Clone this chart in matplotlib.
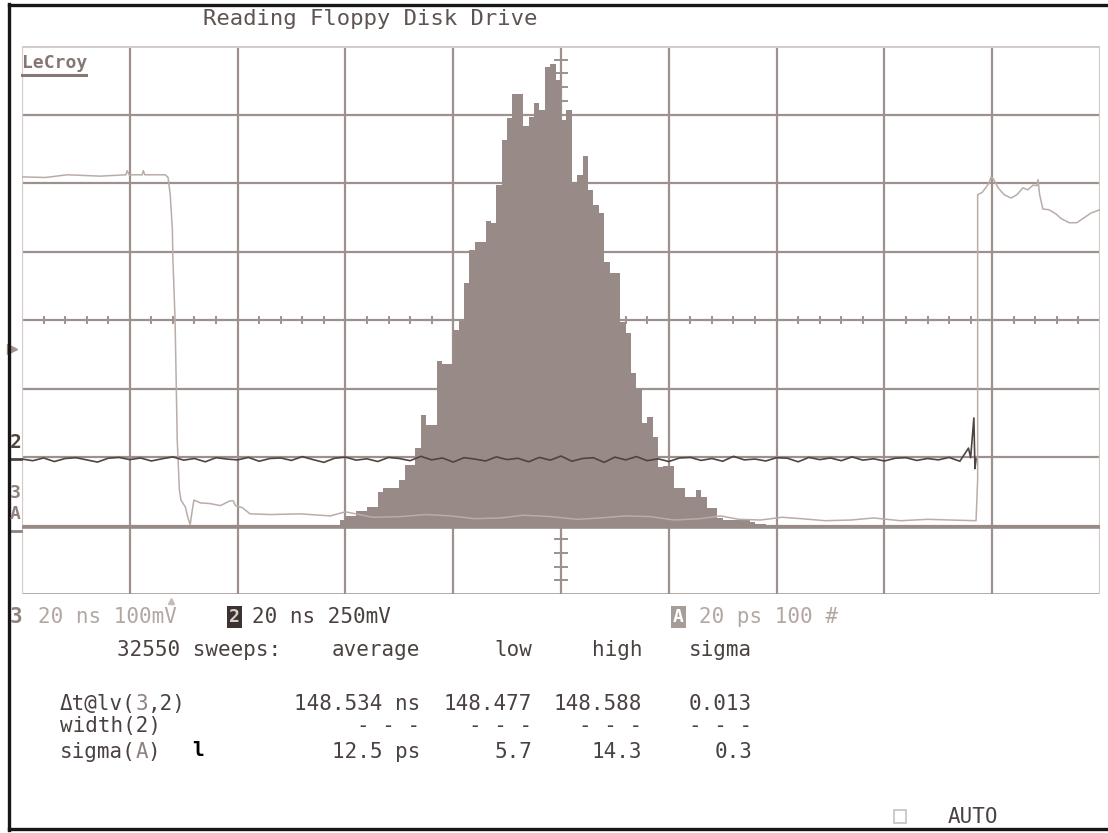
import matplotlib.pyplot as plt
import numpy as np
from matplotlib.lines import Line2D
from matplotlib.patches import Rectangle

# channel 3 (100 mV/div, 20 ns/div): time in ns, level in mV
ch3_ns = [0, 4.3, 8.4, 14.5, 19.3, 19.5, 19.9, 22.3, 22.5, 22.8, 26.6, 27.1,
          27.5, 27.9, 28.0, 28.4, 28.6, 28.8, 29.2, 29.5, 30.3, 30.8, 31.2,
          31.6, 31.9, 33.1, 34.9, 36.8, 38.6, 39.2, 39.6, 40.9, 42.3, 46.1,
          51.6, 57.2, 60.0, 65.0, 70.2, 75.0, 79.5, 84.0, 88.8, 93.0, 98.1,
          103.0, 107.3, 112.0, 116.6, 121.0, 125.9, 129.6, 133.0, 137.0,
          141.0, 144.5, 149.0, 153.8, 158.0, 163.0, 168.0, 172.3, 177.0,
          177.3, 177.3, 178.1, 178.8, 179.4, 179.8, 180.3, 181.1, 182.2,
          183.5, 184.6, 185.7, 186.6, 187.6, 188.3, 188.5, 188.8, 189.4,
          190.5, 191.8, 192.8, 194.3, 195.7, 197.0, 198.3, 200.0]
ch3_mv = [511, 510, 514, 512, 514, 520, 514, 514, 520, 514, 514, 510,
          485, 434, 390, 302, 215, 127, 54, 39, 29, 13, 3,
          25, 39, 35, 34, 31, 38, 38, 31, 28, 19, 18,
          19, 16, 22, 14, 15, 18, 16, 12, 13, 17, 15,
          11, 13, 16, 15, 10, 12, 16, 11, 10,
          14, 12, 9, 10, 13, 9, 11, 10, 9,
          69, 485, 488, 495, 502, 511, 507, 495, 485,
          480, 485, 495, 492, 499, 498, 507, 485, 464,
          463, 457, 450, 444, 444, 451, 458, 463]

# channel 2 (250 mV/div): samples every 2 ns, then the edge spike
ch2_mv = [0, -6, 4, -9, 2, 5, -3, -11, 3, 6, -2, 4, -7, 1, 8, -4, 2, -10,
          5, 0, -3, 6, -8, 2, 4, -5, 9, -2, -12, 3, 7, -4, 1, -9, 6, 2,
          -6, 10, -3, 4, -11, 5, 0, -7, 8, -2, 3, -10, 6, -4, 11, -8, 2,
          5, -12, 7, -3, 9, -6, 1, -9, 4, 6, -5, 2, -8, 10, -3, 0, -7, 5,
          3, -10, 6, -2, 4, -6, 8, -4, 1, -7, 3, 5, -5, 2, -3, 6, -8]
ch2_ns = list(np.arange(len(ch2_mv)) * 2.0)
spike_ns = [175.6, 176.0, 176.6, 176.8, 177.0]
spike_mv = [40, 5, 150, -35, 0]

# trace A: histogram of delay, 1 ps bins (20 ps/div, 100 counts/div)
hist_ps = list(range(52, 139))
hist_counts = [1, 1, 1, 1, 1, 3, 3, 10, 16, 16, 23, 23, 29, 29, 51, 57, 57, 57,
               69, 91, 91, 115, 164, 149, 149, 242, 238, 238, 288, 301, 356,
               404, 416, 416, 447, 444, 499, 565, 597, 632, 632, 585, 599,
               619, 609, 672, 676, 653, 594, 609, 504, 514, 542, 492, 470,
               458, 387, 371, 371, 299, 283, 225, 201, 152, 161, 131, 88, 89,
               89, 57, 57, 44, 44, 54, 44, 28, 28, 13, 10, 10, 10, 10, 10, 7,
               4, 4, 3]

trig_level = 3.58   # divisions
trig_time = 27.7    # ns

# screen offsets (divisions)
CH3_BASE = 0.98
CH2_BASE = 1.97
HIST_BASE = 0.978

GRID = '#9d918d'
GRID_EDGE = '#d3cbc7'
HIST_C = '#978a87'
CH3_C = '#b9ada8'
CH2_C = '#4e4440'
DARK = '#4a4240'
LIGHT = '#b3a7a3'
TAUPE = '#8f827e'
MONO = 'DejaVu Sans Mono'
FS = 15
PITCH = 0.602 * FS * 100 / 72   # px per character of the mono font

W, H = 1108, 833
fig = plt.figure(figsize=(W / 100, H / 100), dpi=100)


def fx(px):
    return px / W


def fy(py):
    return 1 - py / H


def mono(x, y, parts):
    # draw a line made of (text, colour) pieces one after the other
    for s, c in parts:
        fig.text(fx(x), fy(y), s, family=MONO, size=FS, color=c, va='center')
        x += len(s) * PITCH


ax = fig.add_axes([fx(22), fy(594), (1100 - 22) / W, (594 - 46) / H])
ax.set_xlim(0, 10)
ax.set_ylim(0, 8)
ax.axis('off')

# graticule
for i in range(1, 10):
    ax.axvline(i, color=GRID, lw=1.6, zorder=1)
for j in range(1, 8):
    ax.axhline(j, color=GRID, lw=1.6, zorder=1)
ax.axhline(0, color=GRID, lw=1.8, zorder=1)
ax.axhline(8, color=GRID_EDGE, lw=2.2, zorder=1)
ax.axvline(0, color=GRID_EDGE, lw=1.6, zorder=1)
ax.axvline(10, color=GRID_EDGE, lw=1.6, zorder=1)
xt = [v for v in np.arange(0.2, 10, 0.2) if abs(v - round(v)) > 0.05]
yt = [v for v in np.arange(0.2, 8, 0.2) if abs(v - round(v)) > 0.05]
ax.vlines(xt, 4 - 0.065, 4 + 0.065, color=GRID, lw=1.4, zorder=1)
ax.hlines(yt, 5 - 0.065, 5 + 0.065, color=GRID, lw=1.4, zorder=1)

# histogram A
edges = np.append(hist_ps, hist_ps[-1] + 1) / 20.0
ax.stairs(HIST_BASE + np.array(hist_counts) / 100.0, edges, baseline=HIST_BASE,
          fill=True, color=HIST_C, zorder=2)
ax.hlines(HIST_BASE, 0, 10, color=HIST_C, lw=2.6, zorder=2)

# channel 3
ax.plot(np.array(ch3_ns) / 20.0, CH3_BASE + np.array(ch3_mv) / 100.0,
        color=CH3_C, lw=1.1, zorder=3)

# channel 2
t2 = np.array(ch2_ns + spike_ns) / 20.0
v2 = CH2_BASE + np.array(ch2_mv + spike_mv) / 250.0
ax.plot(t2, v2, color=CH2_C, lw=1.2, zorder=4)

# trigger markers
ax.plot([-0.09], [trig_level], marker='>', ms=7, color='#a0948f',
        clip_on=False, zorder=5)
ax.plot([trig_time / 20.0], [-0.1], marker='^', ms=5, color='#c4bab6',
        clip_on=False, zorder=5)

# trace labels at the left edge
fig.text(fx(10), fy(443), '2', family=MONO, size=14, weight='bold',
         color=CH2_C, va='center')
fig.add_artist(Line2D([fx(9), fx(21)], [fy(459), fy(459)], color=CH2_C, lw=2))
fig.text(fx(10), fy(493), '3', family=MONO, size=13, weight='bold',
         color=TAUPE, va='center')
fig.text(fx(10), fy(514), 'A', family=MONO, size=13, weight='bold',
         color=TAUPE, va='center')
fig.add_artist(Line2D([fx(9), fx(21)], [fy(531), fy(531)], color=TAUPE, lw=2))

# title and logo
fig.text(fx(203), fy(19), 'Reading Floppy Disk Drive', family=MONO, size=16,
         color='#5e5451', va='center')
fig.text(fx(22), fy(63), 'LeCroy', family=MONO, size=13, weight='bold',
         color='#857773', va='center')
fig.add_artist(Line2D([fx(22), fx(86)], [fy(75), fy(75)], color='#857773', lw=2.2))

# channel settings row
fig.text(fx(10), fy(617), '3', family=MONO, size=FS, weight='bold',
         color=TAUPE, va='center')
fig.text(fx(38), fy(617), '20 ns 100mV', family=MONO, size=FS, color=LIGHT,
         va='center')
fig.text(fx(229), fy(617), '2', family=MONO, size=13, weight='bold',
         color='#d8d0cc', va='center',
         bbox=dict(boxstyle='square,pad=0.12', fc='#3a3330', ec='none'))
fig.text(fx(252), fy(617), '20 ns 250mV', family=MONO, size=FS, color=DARK,
         va='center')
fig.text(fx(673), fy(617), 'A', family=MONO, size=13, weight='bold',
         color='white', va='center',
         bbox=dict(boxstyle='square,pad=0.12', fc='#a89c98', ec='none'))
fig.text(fx(699), fy(617), '20 ps 100 #', family=MONO, size=FS, color=LIGHT,
         va='center')

# statistics table
col_right = [420, 532, 642, 752]
headers = ['average', 'low', 'high', 'sigma']
dt_vals = ['148.534 ns', '148.477', '148.588', '0.013']
width_vals = ['- - -', '- - -', '- - -', '- - -']
sigma_vals = ['12.5 ps', '5.7', '14.3', '0.3']

fig.text(fx(117), fy(650), '32550 sweeps:', family=MONO, size=FS,
         color=DARK, va='center')
for x, s in zip(col_right, headers):
    fig.text(fx(x), fy(650), s, family=MONO, size=FS, color=DARK,
             va='center', ha='right')

rows = [(704, [('Δt@lv(', DARK), ('3', TAUPE), (',2)', DARK)], dt_vals),
        (726, [('width(2)', DARK)], width_vals),
        (752, [('sigma(', DARK), ('A', TAUPE), (')', DARK)], sigma_vals)]
for y, label, vals in rows:
    mono(60, y, label)
    for x, s in zip(col_right, vals):
        fig.text(fx(x), fy(y), s, family=MONO, size=FS, color=DARK,
                 va='center', ha='right')
fig.text(fx(192), fy(751), 'l', family=MONO, size=14, weight='bold',
         color='black', va='center')

# mode indicator
fig.add_artist(Rectangle((fx(894), fy(823)), 12 / W, 13 / H, fill=False,
                         ec='#c8c0bc', lw=1.2, transform=fig.transFigure))
fig.text(fx(948), fy(817), 'AUTO', family=MONO, size=FS, color=DARK,
         va='center')

# screen frame
frame = dict(color='#161616', lw=2.4, transform=fig.transFigure)
fig.add_artist(Line2D([fx(9), fx(9)], [fy(4), fy(830)], **frame))
fig.add_artist(Line2D([fx(9), fx(1108)], [fy(5), fy(5)], **frame))
fig.add_artist(Line2D([fx(9), fx(1108)], [fy(829), fy(829)], **frame))

fig.savefig('out.png', dpi=100, facecolor='white')
